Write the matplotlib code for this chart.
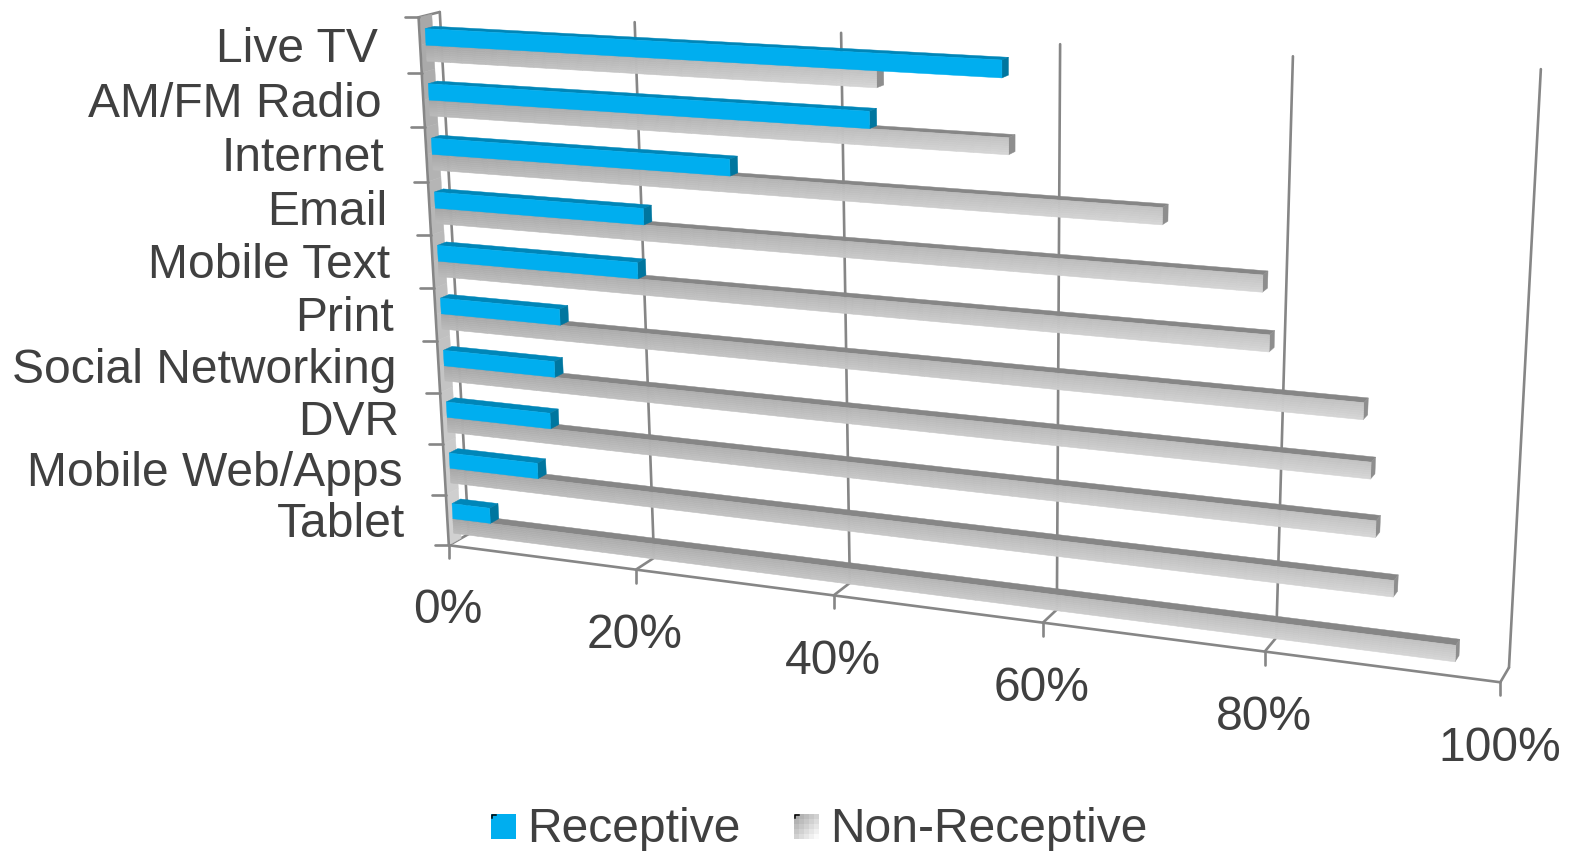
import numpy as np
import matplotlib
matplotlib.use("Agg")
import matplotlib.pyplot as plt
from matplotlib.collections import PolyCollection
from matplotlib.patches import Polygon, Rectangle

categories = ["Live TV", "AM/FM Radio", "Internet", "Email", "Mobile Text", "Print",
              "Social Networking", "DVR", "Mobile Web/Apps", "Tablet"]
receptive = [55.8, 43.7, 30.3, 21.6, 20.8, 12.6, 11.8, 11.1, 9.5, 4.1]
non_receptive = [44.4, 56.4, 70.0, 78.7, 79.4, 87.5, 88.3, 88.9, 90.6, 96.0]
value_ticks = [0, 20, 40, 60, 80, 100]
series_names = ["Receptive", "Non-Receptive"]

W, H = 1570, 851
TEXT = "#404040"
AXIS = "#868686"
BLUE, BLUE_TOP, BLUE_SIDE = "#00AEEF", "#0086B8", "#00769F"
GREY_TOP, GREY_SIDE = "#868686", "#8E8E8E"

plt.rcParams["font.family"] = ["Liberation Sans", "DejaVu Sans"]

# Camera of the 3D box: (value %, category slot, depth) -> canvas position.
camera_points = [
    (0, 0, 0, 419, 17), (0, 10, 0, 449, 546), (20, 10, 0, 636, 570), (40, 10, 0, 833, 595),
    (60, 10, 0, 1043, 622), (80, 10, 0, 1264, 651), (100, 10, 0, 1501, 683),
    (0, 0, 1, 440, 12), (0, 10, 1, 468, 535), (20, 10, 1, 655, 557), (100, 10, 1, 1509, 667),
    (20, 0, 1, 635, 22), (40, 0, 1, 840, 32), (60, 0, 1, 1059, 44), (80, 0, 1, 1294, 57),
    (100, 0, 1, 1541, 70),
]


def fit_camera(points):
    rows, rhs = [], []
    for X, Y, Z, u, v in points:
        rows.append([X, Y, Z, 1, 0, 0, 0, 0, -u * X, -u * Y, -u * Z])
        rhs.append(u)
        rows.append([0, 0, 0, 0, X, Y, Z, 1, -v * X, -v * Y, -v * Z])
        rhs.append(v)
    sol = np.linalg.lstsq(np.array(rows, float), np.array(rhs, float), rcond=None)[0]
    return np.append(sol, 1.0).reshape(3, 4)


CAM = fit_camera(camera_points)


def project(v, c, d):
    q = CAM @ np.array([v, c, d, 1.0])
    return q[0] / q[2], q[1] / q[2]


def face(*corners):
    return [project(*p) for p in corners]


fig = plt.figure(figsize=(W / 100, H / 100), dpi=100)
ax = fig.add_axes([0, 0, 1, 1])
ax.set_xlim(0, W)
ax.set_ylim(H, 0)
ax.axis("off")


def line(a, b, z=1, lw=1.9):
    ax.plot([a[0], b[0]], [a[1], b[1]], color=AXIS, lw=lw, zorder=z, solid_capstyle="round")


# Back wall gridlines and their floor connectors.
n = len(categories)
for t in value_ticks:
    line(project(t, 0, 1), project(t, n, 1))
    line(project(t, n, 0), project(t, n, 1))
line(project(0, 0, 0), project(0, 0, 1))

# Shaded strip along the category axis.
strip = []
for i in range(20):
    c0, c1 = n * i / 20, n * (i + 1) / 20
    g = 0.66 + 0.16 * i / 19
    strip.append((face((0, c0, 0.05), (0, c1, 0.05), (0, c1, 0.62), (0, c0, 0.62)), (g, g, g)))
ax.add_collection(PolyCollection([s[0] for s in strip], facecolors=[s[1] for s in strip],
                                 edgecolors=[s[1] for s in strip], linewidths=0.3, zorder=2))

# Front axes and tick marks.
line(project(0, 0, 0), project(0, n, 0), z=3)
line(project(0, n, 0), project(100, n, 0), z=3)
for i in range(n + 1):
    x, y = project(0, i, 0)
    line((x - 14, y), (x, y), z=3)
for t in value_ticks:
    x, y = project(t, n, 0)
    line((x, y), (x, y + 13), z=3)

D0, D1 = 0.27, 0.70


def grey_shade(frac, w):
    g = 0.65 + 0.11 * frac + 0.08 * w
    return (g, g, g)


def bar(value, c0, c1, top, side, front=None, z=4):
    ax.add_patch(Polygon(face((0, c0, D0), (value, c0, D0), (value, c0, D1), (0, c0, D1)),
                         fc=top, ec=top, lw=0.3, zorder=z))
    ax.add_patch(Polygon(face((value, c0, D0), (value, c1, D0), (value, c1, D1), (value, c0, D1)),
                         fc=side, ec=side, lw=0.3, zorder=z))
    if front is not None:
        ax.add_patch(Polygon(face((0, c0, D0), (value, c0, D0), (value, c1, D0), (0, c1, D0)),
                             fc=front, ec=front, lw=0.3, zorder=z))
        return
    # Diagonal gradient on the front face, built from small cells.
    nu, nw = 36, 8
    cells, shades = [], []
    for i in range(nu):
        v0, v1 = value * i / nu, value * (i + 1) / nu
        for j in range(nw):
            a = c0 + (c1 - c0) * j / nw
            b = c0 + (c1 - c0) * (j + 1) / nw
            cells.append(face((v0, a, D0), (v1, a, D0), (v1, b, D0), (v0, b, D0)))
            shades.append(grey_shade((i + 0.5) / nu, (j + 0.5) / nw))
    ax.add_collection(PolyCollection(cells, facecolors=shades, edgecolors=shades,
                                     linewidths=0.4, zorder=z))


for i, (r, g) in enumerate(zip(receptive, non_receptive)):
    z = 4 + i * 2
    bar(g, i + 0.53, i + 0.82, GREY_TOP, GREY_SIDE, z=z)
    bar(r, i + 0.23, i + 0.53, BLUE_TOP, BLUE_SIDE, front=BLUE, z=z + 1)

# Category and value labels.
for i, name in enumerate(categories):
    x, y = project(0, i + 0.5, 0)
    ax.text(x - 42, y + 4, name, ha="right", va="center", fontsize=34.6, color=TEXT, zorder=40)
for t in value_ticks:
    x, y = project(t, n, 0)
    ax.text(x - 1, y + 66 - (t == 0), f"{t}%", ha="center", va="center", fontsize=34.6,
            color=TEXT, zorder=40)

# Legend row.
ax.add_patch(Rectangle((491, 814), 25, 25, fc=BLUE, ec="none", zorder=40))
ramp = np.array([[0.66 + 0.04 * (i + j) for i in range(5)] for j in range(5)])
ax.imshow(ramp, extent=(794, 819, 839, 814), cmap="gray", vmin=0, vmax=1, aspect="auto",
          interpolation="nearest", zorder=40)
ax.set_xlim(0, W)
ax.set_ylim(H, 0)
for x0 in (491, 794):
    ax.plot([x0 + 0.5, x0 + 0.5, x0 + 5], [818, 814.5, 814.5], color="black", lw=1.1, zorder=41)
ax.text(527, 829, series_names[0], ha="left", va="center", fontsize=34.6, color=TEXT, zorder=40)
ax.text(830, 829, series_names[1], ha="left", va="center", fontsize=34.6, color=TEXT, zorder=40)

fig.savefig("out.png", dpi=100, facecolor="white")
